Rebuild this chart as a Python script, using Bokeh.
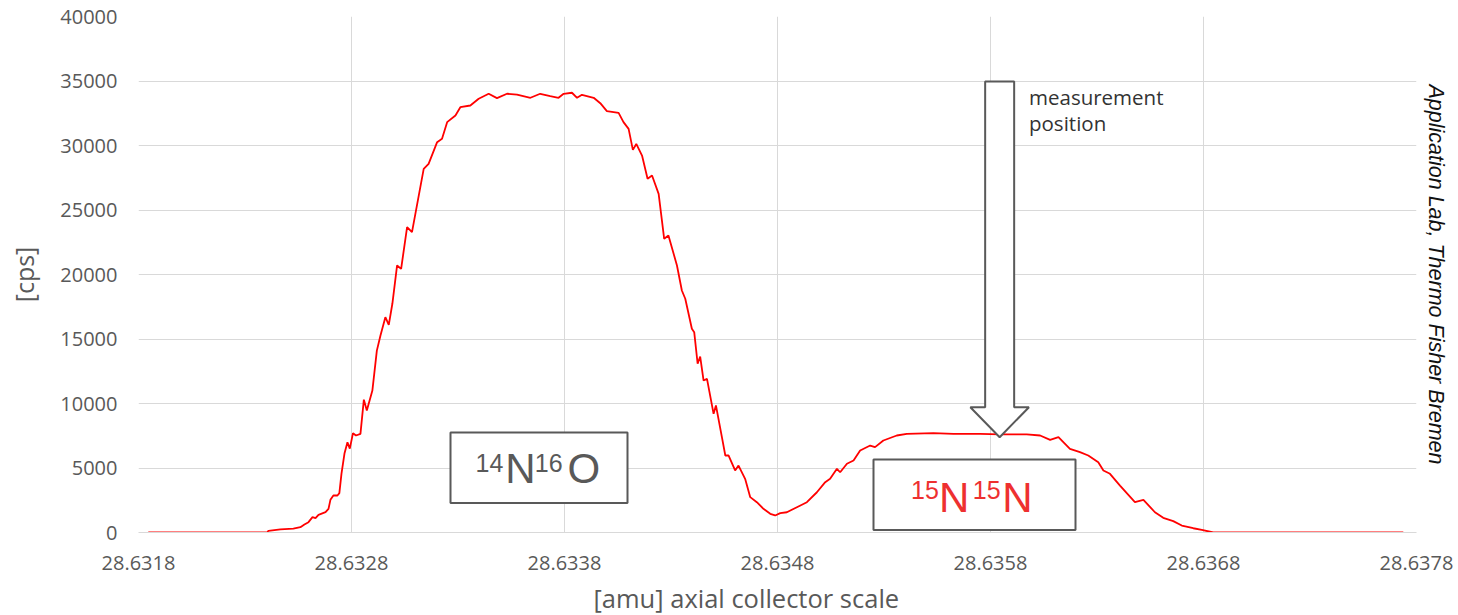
import math

from bokeh.embed import file_html
from bokeh.models import FixedTicker, Label, NumeralTickFormatter, Range1d, Title
from bokeh.plotting import figure
from bokeh.resources import INLINE

# ---------------------------------------------------------------------------
# Peak scan: mass position on the axial collector [amu] vs. count rate [cps]
# ---------------------------------------------------------------------------
mass_amu = [
    28.631846, 28.632404, 28.632410, 28.632466, 28.632527, 28.632560, 28.632579,
    28.632598, 28.632617, 28.632631, 28.632645, 28.632678, 28.632692, 28.632701,
    28.632715, 28.632734, 28.632743, 28.632753, 28.632767, 28.632781, 28.632792,
    28.632807, 28.632821, 28.632842, 28.632858, 28.632872, 28.632898, 28.632919,
    28.632936, 28.632959, 28.632975, 28.632992, 28.633014, 28.633033, 28.633061,
    28.633084, 28.633139, 28.633162, 28.633202, 28.633225, 28.633249, 28.633288,
    28.633311, 28.633358, 28.633397, 28.633444, 28.633483, 28.633530, 28.633577,
    28.633640, 28.633686, 28.633733, 28.633772, 28.633796, 28.633835, 28.633859,
    28.633882, 28.633937, 28.633968, 28.633999, 28.634054, 28.634077, 28.634101,
    28.634121, 28.634137, 28.634164, 28.634190, 28.634211, 28.634242, 28.634268,
    28.634288, 28.634328, 28.634351, 28.634367, 28.634398, 28.634409, 28.634425,
    28.634437, 28.634453, 28.634469, 28.634500, 28.634511, 28.634539, 28.634555,
    28.634570, 28.634601, 28.634617, 28.634648, 28.634672, 28.634703, 28.634734,
    28.634766, 28.634789, 28.634813, 28.634844, 28.634891, 28.634938, 28.634985,
    28.635024, 28.635047, 28.635079, 28.635094, 28.635126, 28.635157, 28.635188,
    28.635235, 28.635258, 28.635297, 28.635360, 28.635407, 28.635532, 28.635626,
    28.635751, 28.635845, 28.635970, 28.636033, 28.636080, 28.636119, 28.636173,
    28.636220, 28.636259, 28.636306, 28.636330, 28.636361, 28.636408, 28.636478,
    28.636518, 28.636572, 28.636611, 28.636658, 28.636698, 28.636752, 28.636792,
    28.636846, 28.637738,
]

intensity_cps = [
    0, 0, 130, 250, 300, 410, 620,
    800, 1190, 1110, 1370, 1575, 1835, 2530,
    2870, 2870, 3050, 4570, 6120, 7000, 6500,
    7700, 7520, 7650, 10300, 9460, 11000, 14100,
    15270, 16690, 16100, 17750, 20700, 20440, 23670,
    23280, 28190, 28580, 30260, 30520, 31810, 32330,
    32970, 33100, 33620, 34010, 33670, 34010, 33950,
    33700, 34010, 33830, 33700, 34010, 34090, 33700,
    33930, 33700, 33280, 32660, 32530, 31810, 31290,
    29660, 30120, 29220, 27420, 27670, 26250, 22770,
    23020, 20700, 18760, 18120, 15790, 15530, 13080,
    13640, 11780, 11910, 9200, 9850, 7390, 5970,
    5970, 4810, 5190, 4160, 2740, 2350, 1840,
    1450, 1320, 1500, 1570, 1960, 2350, 3120,
    3900, 4160, 4940, 4670, 5330, 5580, 6360,
    6740, 6620, 7130, 7520, 7650, 7700, 7650,
    7650, 7600, 7600, 7520, 7180, 7390, 6490,
    6230, 5970, 5450, 4810, 4550, 3640, 2350,
    2530, 1570, 1140, 880, 540, 330, 200,
    0, 0,
]

x_ticks = [28.6318, 28.6328, 28.6338, 28.6348, 28.6358, 28.6368, 28.6378]
y_ticks = [0, 5000, 10000, 15000, 20000, 25000, 30000, 35000, 40000]

measurement_mass = 28.635843  # position marked by the arrow

# ---------------------------------------------------------------------------
# Layout
# ---------------------------------------------------------------------------
X0, X1 = 28.6318, 28.6378
Y0, Y1 = 0, 40000
FRAME_W, FRAME_H = 1278, 516
LEFT, TOP = 138, 16
BOTTOM = TOP + FRAME_H

GRAY = "#595959"
GRID = "#d9d9d9"
RED = "#ff0000"
RED_TEXT = "#ee3030"


def to_data(px, py):
    """Page pixel position -> data coordinates of the frame."""
    return (X0 + (px - LEFT) * (X1 - X0) / FRAME_W,
            Y0 + (BOTTOM - py) * (Y1 - Y0) / FRAME_H)


p = figure(
    frame_width=FRAME_W, frame_height=FRAME_H,
    min_border_left=LEFT, min_border_right=1458 - LEFT - FRAME_W,
    min_border_top=TOP, min_border_bottom=615 - BOTTOM,
    x_range=Range1d(X0, X1), y_range=Range1d(Y0, Y1),
    output_backend="svg", toolbar_location=None,
    background_fill_color="white", border_fill_color="white",
)
p.outline_line_color = None

# axes & grid
p.xaxis.ticker = FixedTicker(ticks=x_ticks)
p.yaxis.ticker = FixedTicker(ticks=y_ticks)
p.xaxis.formatter = NumeralTickFormatter(format="0.0000")
p.yaxis.formatter = NumeralTickFormatter(format="0")
for ax in (p.xaxis, p.yaxis):
    ax.major_tick_line_color = None
    ax.minor_tick_line_color = None
    ax.major_label_text_font = "Open Sans"
    ax.major_label_text_font_size = "20px"
    ax.major_label_text_color = GRAY
p.xaxis.axis_line_color = GRID
p.xaxis.axis_line_width = 1
p.yaxis.axis_line_color = None
p.xaxis.major_label_standoff = 17
p.yaxis.major_label_standoff = 15
p.xgrid.grid_line_color = GRID
p.ygrid.grid_line_color = GRID
p.xgrid.grid_line_width = 1
p.ygrid.grid_line_width = 1

p.yaxis.axis_label = "[cps]"
p.yaxis.axis_label_text_font = "Open Sans"
p.yaxis.axis_label_text_font_size = "25px"
p.yaxis.axis_label_text_font_style = "normal"
p.yaxis.axis_label_text_color = GRAY
p.yaxis.axis_label_standoff = 16

# x-axis title, set slightly left of the frame centre
x_title = Title(text="[amu] axial collector scale", align="left", offset=455,
                text_font="Open Sans", text_font_size="25.5px",
                text_font_style="normal", text_color=GRAY, standoff=13)
p.add_layout(x_title, "below")

# source note along the right edge
note = Title(text="Application Lab, Thermo Fisher Bremen", align="center",
             text_font="Liberation Sans", text_font_style="italic",
             text_font_size="21.5px", text_color="#111111", standoff=14)
p.add_layout(note, "right")

# scan trace
p.line(mass_amu, intensity_cps, line_color=RED, line_width=1.8)

# block arrow pointing at the measurement position
cx_px = LEFT + (measurement_mass - X0) * FRAME_W / (X1 - X0)
arrow_px = [(cx_px - 14.5, 81), (cx_px + 14.5, 81), (cx_px + 14.5, 406.7),
            (cx_px + 29.3, 406.7), (cx_px, 436.7), (cx_px - 29.3, 406.7),
            (cx_px - 14.5, 406.7)]
arrow = [to_data(px, py) for px, py in arrow_px]
p.patch([a[0] for a in arrow], [a[1] for a in arrow],
        fill_color="white", line_color=GRAY, line_width=2)

# species boxes
for (l, t, r, b) in [(450, 432, 627, 502.5), (873, 459, 1075, 529.5)]:
    (xl, yt), (xr, yb) = to_data(l, t), to_data(r, b)
    p.quad(left=[xl], right=[xr], top=[yt], bottom=[yb],
           fill_color="white", line_color=GRAY, line_width=2)

# isotope formulas: (text, left px, baseline px, size, color)
formula_parts = [
    ("14", 475.0, 462.0, 25, GRAY), ("N", 504.8, 468.0, 42, GRAY),
    ("16", 534.3, 462.0, 25, GRAY), ("O", 567.0, 468.0, 42, GRAY),
    ("15", 910.6, 489.0, 25, RED_TEXT), ("N", 938.5, 496.5, 42, RED_TEXT),
    ("15", 972.3, 489.0, 25, RED_TEXT), ("N", 1001.8, 496.5, 42, RED_TEXT),
]
for txt, px, py, size, color in formula_parts:
    x, y = to_data(px, py)
    p.add_layout(Label(x=x, y=y, text=txt, text_align="left",
                       text_baseline="alphabetic",
                       text_font="Liberation Sans",
                       text_font_size=f"{size}px", text_color=color))

for txt, py in [("measurement", 96), ("position", 122)]:
    x, y = to_data(1028.5, py)
    p.add_layout(Label(x=x, y=y, text=txt, text_align="left",
                       text_baseline="alphabetic", text_font="Open Sans",
                       text_font_size="20.5px", text_color="#333333"))

open("out.html", "w").write(file_html(p, INLINE))
